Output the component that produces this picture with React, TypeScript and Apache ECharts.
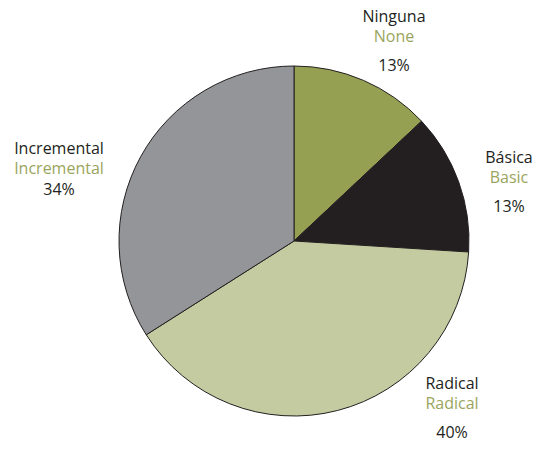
import React, { useEffect, useRef } from "react";
import * as echarts from "echarts";

const namesEs = ["Ninguna", "Básica", "Radical", "Incremental"];
const namesEn = ["None", "Basic", "Radical", "Incremental"];
const values = [13, 13, 40, 34];
const colors = ["#96a053", "#231f20", "#c5cba0", "#939598"];

const labelPos = [
  { x: 394, y: 6, gap: 38 },
  { x: 509, y: 147, gap: 38 },
  { x: 452, y: 373, gap: 38 },
  { x: 59, y: 138, gap: 22 },
];

export default function App() {
  const ref = useRef<HTMLDivElement>(null);
  useEffect(() => {
    if (!ref.current) return;
    const chart = echarts.init(ref.current, null, { renderer: "svg" });
    const font = "'Open Sans', 'Noto Sans', sans-serif";
    chart.setOption({
      animation: false,
      backgroundColor: "#ffffff",
      series: [
        {
          type: "pie",
          center: [294, 241],
          radius: [0, 175],
          startAngle: 90,
          clockwise: true,
          silent: true,
          labelLine: { show: false },
          itemStyle: { borderColor: "#231f20", borderWidth: 1 },
          labelLayout: (params: any) => {
            const p = labelPos[params.dataIndex];
            return { x: p.x, y: p.y, align: "center", verticalAlign: "top" };
          },
          data: values.map((v, i) => ({
            value: v,
            name: namesEs[i],
            itemStyle: { color: colors[i] },
            label: {
              show: true,
              position: "inside",
              overflow: "none",
              formatter: `{a|${namesEs[i]}}\n{b|${namesEn[i]}}\n{c|${v}%}`,
              rich: {
                a: { color: "#231f20", fontSize: 16, fontFamily: font, lineHeight: 20, align: "center" },
                b: { color: "#9aa55d", fontSize: 16, fontFamily: font, lineHeight: 20, align: "center" },
                c: { color: "#231f20", fontSize: 16, fontFamily: font, lineHeight: labelPos[i].gap, align: "center" },
              },
            },
          })),
        },
      ],
    });
    return () => chart.dispose();
  }, []);
  return (
    <div
      ref={ref}
      style={{ position: "fixed", left: 0, top: 0, width: 539, height: 449 }}
    />
  );
}
